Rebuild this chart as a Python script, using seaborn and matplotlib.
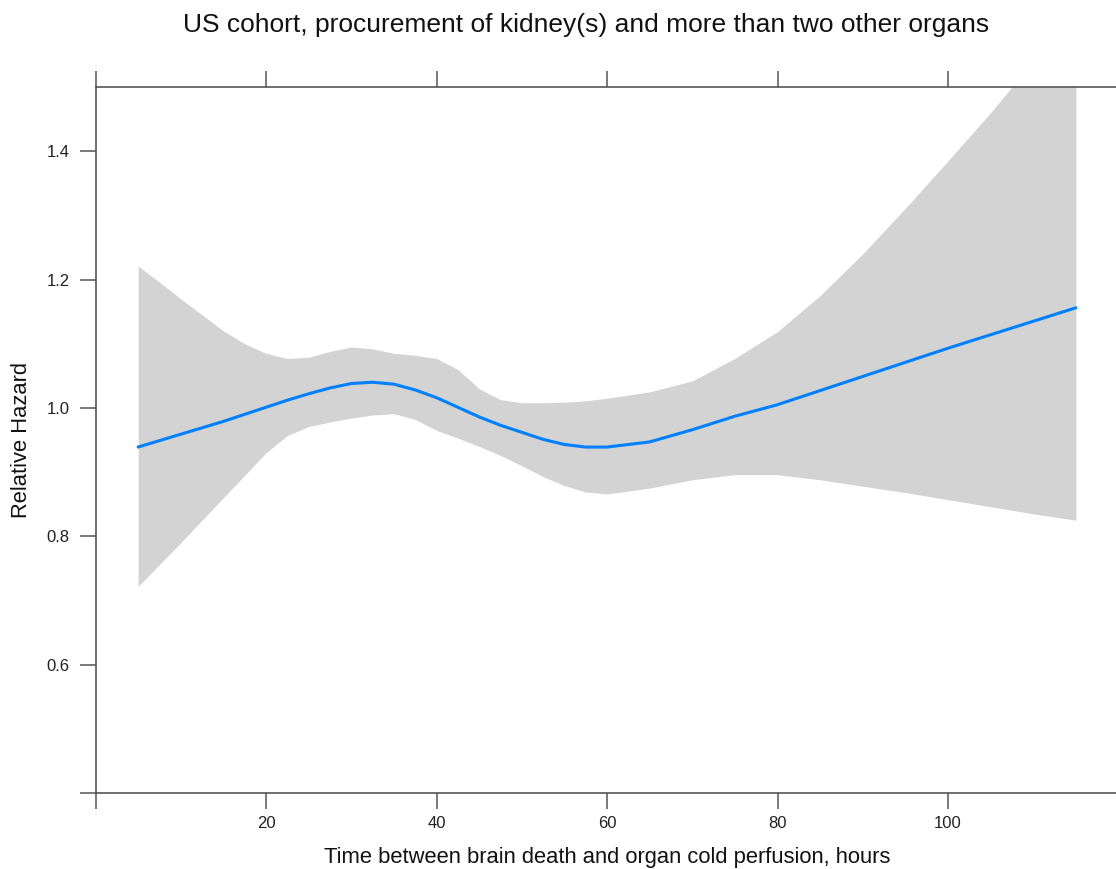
import numpy as np
import pandas as pd
import matplotlib
matplotlib.use("Agg")
import matplotlib.pyplot as plt
import seaborn as sns

# Spline fit of relative hazard with its 95% confidence band
hours = [5, 7.5, 10, 12.5, 15, 17.5, 20, 22.5, 25, 27.5, 30, 32.5, 35, 37.5,
         40, 42.5, 45, 47.5, 50, 52.5, 55, 57.5, 60, 65, 70, 75, 80, 85, 90,
         95, 100, 105, 110, 115]
hazard = [0.939, 0.949, 0.959, 0.969, 0.979, 0.990, 1.001, 1.012, 1.022,
          1.031, 1.038, 1.040, 1.037, 1.028, 1.016, 1.001, 0.986, 0.973,
          0.962, 0.951, 0.943, 0.939, 0.939, 0.947, 0.966, 0.987, 1.005,
          1.027, 1.049, 1.071, 1.093, 1.114, 1.135, 1.156]
lower = [0.722, 0.756, 0.790, 0.825, 0.860, 0.895, 0.930, 0.957, 0.971,
         0.978, 0.984, 0.989, 0.991, 0.982, 0.965, 0.953, 0.940, 0.926,
         0.910, 0.893, 0.879, 0.869, 0.866, 0.875, 0.888, 0.896, 0.896,
         0.888, 0.878, 0.868, 0.857, 0.846, 0.835, 0.825]
upper = [1.221, 1.196, 1.170, 1.145, 1.120, 1.100, 1.085, 1.077, 1.079,
         1.088, 1.095, 1.092, 1.085, 1.082, 1.077, 1.060, 1.030, 1.013,
         1.008, 1.008, 1.009, 1.011, 1.015, 1.025, 1.042, 1.077, 1.119,
         1.175, 1.240, 1.311, 1.385, 1.460, 1.540, 1.620]

x_ticks = [0, 20, 40, 60, 80, 100]
x_tick_labels = ["", "20", "40", "60", "80", "100"]
y_ticks = [0.4, 0.6, 0.8, 1.0, 1.2, 1.4]
y_tick_labels = ["", "0.6", "0.8", "1.0", "1.2", "1.4"]

title = "US cohort, procurement of kidney(s) and more than two other organs"
x_label = "Time between brain death and organ cold perfusion, hours"
y_label = "Relative Hazard"

df = pd.DataFrame({"hours": hours, "hazard": hazard,
                   "lower": lower, "upper": upper})

sns.set_theme(style="white")
plt.rcParams["font.family"] = ["Liberation Sans", "DejaVu Sans"]

W, H = 1116, 869
fig = plt.figure(figsize=(W / 100, H / 100), dpi=100)

# panel box in pixels (right edge runs just past the canvas)
px_left, px_right, px_top, px_bottom = 95.5, 1118.5, 87, 793
ax = fig.add_axes([px_left / W, (H - px_bottom) / H,
                   (px_right - px_left) / W, (px_bottom - px_top) / H])
ax.set_xlim(0, 120)
ax.set_ylim(0.4, 1.5)

ax.fill_between(df["hours"], df["lower"], df["upper"],
                color="#d3d3d3", linewidth=0, zorder=1)
sns.lineplot(data=df, x="hours", y="hazard", color="#0080ff",
             linewidth=2.2, sort=False, ax=ax, zorder=2)

edge = "#555555"
for side in ["left", "top", "bottom"]:
    ax.spines[side].set_color(edge)
    ax.spines[side].set_linewidth(1.2)
ax.spines["right"].set_visible(False)

ax.set_xticks(x_ticks)
ax.set_xticklabels(x_tick_labels)
ax.set_yticks(y_ticks)
ax.set_yticklabels(y_tick_labels)
ax.xaxis.set_ticks_position("both")
ax.yaxis.set_ticks_position("left")
ax.tick_params(axis="both", direction="out", length=11.5, width=1.1,
               color=edge, labelcolor="#222222", labelsize=12)
ax.tick_params(axis="x", top=True, labeltop=False, pad=5)
ax.tick_params(axis="y", pad=7)

ax.set_xlabel("")
ax.set_ylabel("")
fig.text(607 / W, 1 - 857 / H, x_label, ha="center", va="center",
         fontsize=15.8, color="#111111")
fig.text(22 / W, 1 - 440 / H, y_label, ha="center", va="center",
         rotation=90, fontsize=15.8, color="#111111")
fig.text(586 / W, 1 - 25 / H, title, ha="center", va="center",
         fontsize=19, color="#111111")

fig.savefig("out.png", dpi=100)
